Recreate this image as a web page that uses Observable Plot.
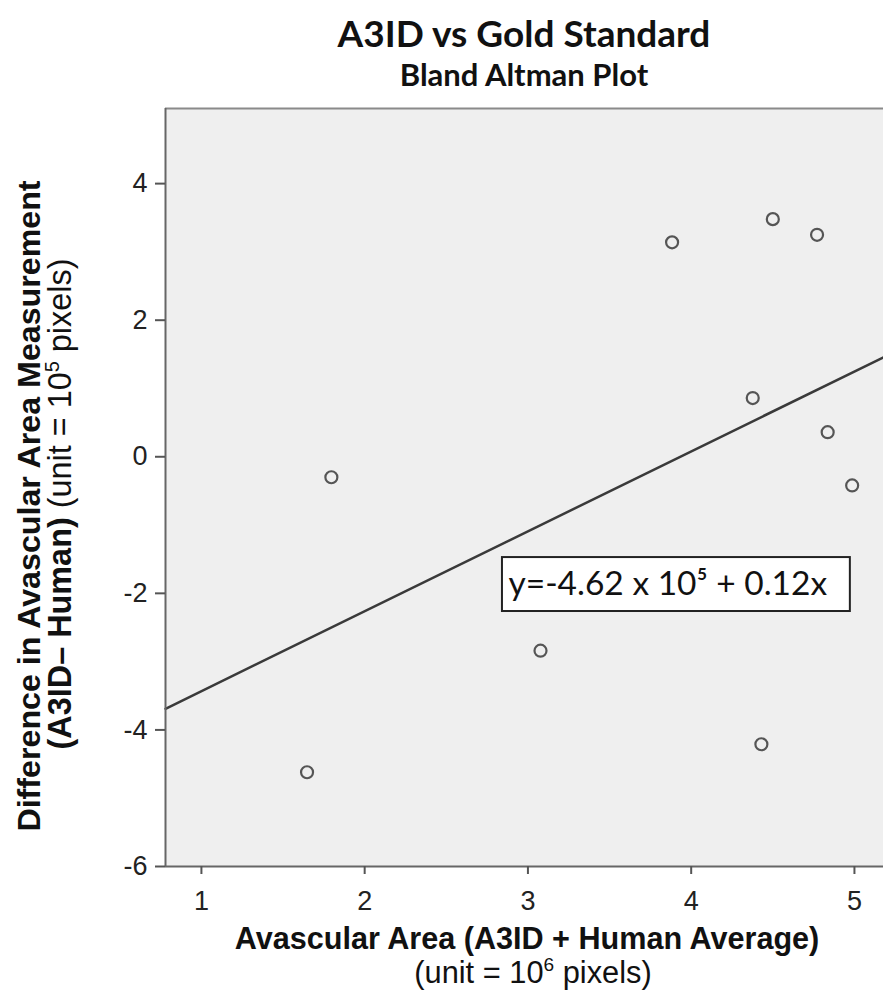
<!DOCTYPE html>
<html><head><meta charset="utf-8">
<script src="https://cdn.jsdelivr.net/npm/d3@7"></script>
<script src="https://cdn.jsdelivr.net/npm/@observablehq/plot@0.6"></script>
<style>
body{margin:0;background:#fff;width:883px;height:994px;overflow:hidden}
#head{position:relative;height:95px;width:883px}
#head div{position:absolute;left:165px;width:718px;text-align:center;font-family:Lato,sans-serif;font-weight:700;color:#111;white-space:nowrap;line-height:1.2}
#t{top:11px;font-size:37px}
#s{top:56px;font-size:31px}
#chart svg{display:block}
</style></head><body>
<div id="head"><div id="t">A3ID vs Gold Standard</div><div id="s">Bland Altman Plot</div></div>
<div id="chart"></div>
<script>
// Average of A3ID and human measurement (unit = 10^6 pixels)
const meanArea = [1.796, 1.647, 3.077, 3.883, 4.500, 4.771, 4.377, 4.836, 4.986, 4.430];
// Difference A3ID - Human (unit = 10^5 pixels)
const diffArea = [-0.30, -4.62, -2.84, 3.14, 3.48, 3.25, 0.86, 0.36, -0.42, -4.21];
const xTicks = [1, 2, 3, 4, 5];
const yTicks = [-6, -4, -2, 0, 2, 4];
const xDomain = [0.78, 5.178];
const yDomain = [-6, 5.1];
// regression line read at the plot edges
const fitX = [0.78, 5.178];
const fitY = [-3.69, 1.457];
const eqLabel = ["y=-4.62 x 10\u2075 + 0.12x"];
const eqBoxX = [2.844, 4.975];
const eqBoxY = [-1.476, -2.266];

const points = meanArea.map((x, i) => ({x, y: diffArea[i]}));
const fit = fitX.map((x, i) => ({x, y: fitY[i]}));
const box = [{x1: eqBoxX[0], x2: eqBoxX[1], y1: eqBoxY[0], y2: eqBoxY[1]}];

const plot = Plot.plot({
  width: 883, height: 899,
  marginTop: 13, marginBottom: 128, marginLeft: 165, marginRight: 0,
  x: {domain: xDomain},
  y: {domain: yDomain},
  style: {fontFamily: "'Liberation Sans', Arial, sans-serif", fontSize: "27px", color: "#222", background: "#fff"},
  marks: [
    Plot.frame({fill: "#efefef", stroke: null}),
    Plot.ruleY([yDomain[1]], {stroke: "#8a8a8a", strokeWidth: 2}),
    Plot.line(fit, {x: "x", y: "y", stroke: "#3a3a3a", strokeWidth: 2.5}),
    Plot.rect(box, {x1: "x1", x2: "x2", y1: "y1", y2: "y2", fill: "white", stroke: "#222", strokeWidth: 2}),
    Plot.text(eqLabel, {x: () => eqBoxX[0], y: () => (eqBoxY[0] + eqBoxY[1]) / 2, text: d => d,
      textAnchor: "start", dx: 6, fontSize: 33.5, fontFamily: "Lato, sans-serif", fill: "#111"}),
    Plot.dot(points, {x: "x", y: "y", r: 6, stroke: "#555", strokeWidth: 2.2, fill: "none"}),
    Plot.ruleX([xDomain[0]], {stroke: "#666", strokeWidth: 2}),
    Plot.ruleY([yDomain[0]], {stroke: "#666", strokeWidth: 2}),
    Plot.axisX({ticks: xTicks, tickFormat: d => String(d), tickSize: 8, tickPadding: 16, label: null,
      stroke: "#555", strokeWidth: 2, fill: "#222", fontSize: 27}),
    Plot.axisY({ticks: yTicks, tickFormat: d => String(d), tickSize: 10, tickPadding: 8, label: null,
      stroke: "#555", strokeWidth: 2, fill: "#222", fontSize: 27})
  ]
});
document.getElementById("chart").append(plot);

// Axis titles (rich text with bold parts and superscripts)
const svg = d3.select(plot);
const ff = "'Liberation Sans', Arial, sans-serif";
function sup(t, s) {
  t.append("tspan").attr("font-size", "0.62em").attr("dy", "-0.62em").text(s);
  return t.append("tspan").attr("dy", "0.38em");
}
// x title
svg.append("text").attr("x", 527).attr("y", 854).attr("text-anchor", "middle")
  .attr("font-family", ff).attr("font-size", 30.6).attr("font-weight", "bold").attr("fill", "#111")
  .text("Avascular Area (A3ID + Human Average)");
{
  const t = svg.append("text").attr("x", 533).attr("y", 888).attr("text-anchor", "middle")
    .attr("font-family", ff).attr("font-size", 30.8).attr("fill", "#111");
  t.append("tspan").text("(unit = 10");
  sup(t, "6").text(" pixels)");
}
// y title
svg.append("text").attr("transform", "translate(40,411) rotate(-90)").attr("text-anchor", "middle")
  .attr("font-family", ff).attr("font-size", 32.2).attr("font-weight", "bold").attr("fill", "#111")
  .text("Difference in Avascular Area Measurement");
{
  const t = svg.append("text").attr("transform", "translate(71,409) rotate(-90)").attr("text-anchor", "middle")
    .attr("font-family", ff).attr("font-size", 32.4).attr("fill", "#111");
  t.append("tspan").attr("font-weight", "bold").text("(A3ID\u2013 Human)");
  t.append("tspan").text(" (unit = 10");
  sup(t, "5").text(" pixels)");
}
</script></body></html>
